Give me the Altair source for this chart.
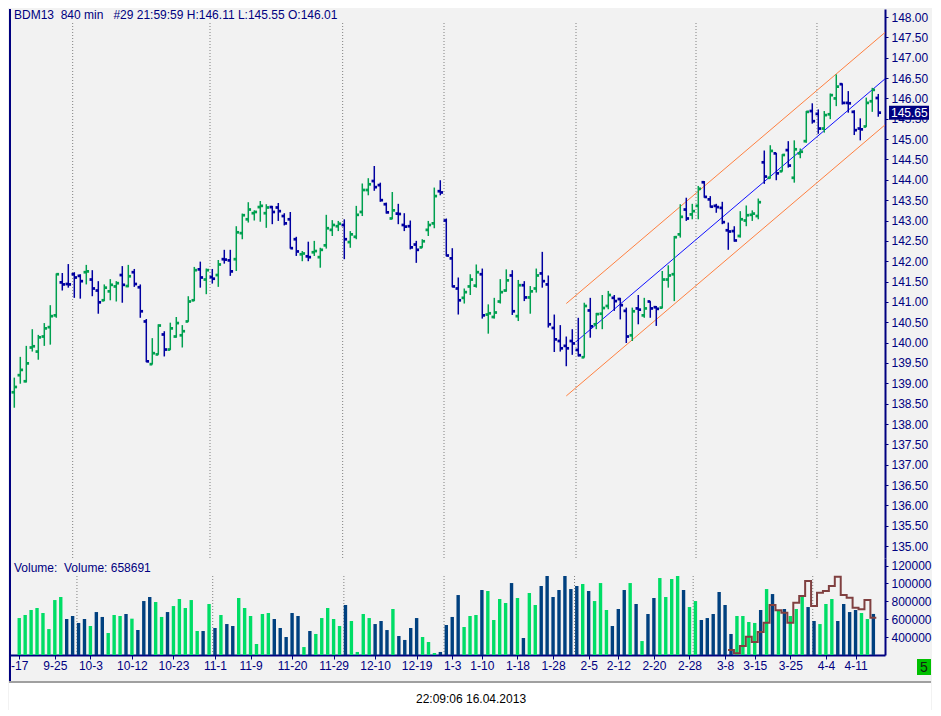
import altair as alt
import pandas as pd

# ---------------- data ----------------
OPEN = [138.78,139.20,139.05,139.88,139.78,140.15,140.38,140.67,141.48,141.44,
141.68,141.64,141.73,141.55,141.28,141.04,141.26,141.38,141.66,141.39,
141.73,141.36,140.52,139.47,139.71,140.20,139.83,140.15,140.18,140.52,
141.04,141.80,141.55,141.61,141.66,142.05,142.02,142.05,142.69,143.03,
143.18,143.33,143.18,143.33,143.32,143.11,143.03,142.54,142.17,142.12,
142.22,142.10,142.39,142.77,142.86,142.89,142.47,142.60,143.21,143.75,
143.97,143.87,143.40,143.05,143.17,142.89,142.86,142.41,142.34,142.77,
142.93,143.72,143.00,142.07,141.33,141.10,141.38,141.40,141.68,140.69,
140.63,141.01,141.28,141.65,140.65,141.41,141.11,141.33,141.70,141.43,
140.36,140.04,139.92,140.04,139.82,139.64,140.79,140.45,140.71,140.90,
141.10,141.07,140.78,140.18,140.84,140.67,141.01,140.87,140.86,141.55,
141.68,142.66,143.27,143.15,143.36,143.94,143.52,143.36,143.31,142.76,
142.74,142.62,143.00,143.14,143.11,144.43,144.05,144.65,144.21,144.73,
144.05,144.65,144.95,145.69,145.62,145.26,145.61,146.00,146.35,145.89,
145.67,145.26,145.31,145.93,146.01]

HIGH = [139.14,139.65,139.92,140.33,140.19,140.48,140.92,141.70,141.71,141.93,
141.73,141.68,141.91,141.78,141.51,141.43,141.56,141.51,141.88,141.91,
141.81,141.43,140.58,140.11,140.45,140.28,140.49,140.63,140.43,141.14,
141.86,141.99,141.82,141.81,142.03,142.28,142.28,142.86,143.17,143.45,
143.25,143.48,143.40,143.36,143.43,143.18,143.21,142.60,142.25,142.48,
142.50,142.33,143.14,143.01,142.99,143.03,142.74,143.36,143.91,144.04,
144.34,143.93,143.44,143.70,143.41,143.18,143.00,142.50,142.54,142.99,
143.81,143.99,143.05,142.32,141.60,141.33,141.68,141.92,141.82,140.94,
141.10,141.56,141.80,141.78,141.54,141.51,141.39,141.82,142.23,141.65,
140.69,140.43,140.15,140.33,140.61,140.98,141.10,140.73,141.17,141.27,
141.17,141.10,140.86,140.86,141.17,141.10,141.02,140.90,141.76,141.90,
142.62,143.40,143.56,143.41,143.85,143.97,143.60,143.41,143.46,142.95,
142.86,143.23,143.37,143.25,143.54,144.72,144.85,144.66,144.63,144.95,
144.97,144.77,145.69,145.88,145.73,145.69,146.12,146.59,146.37,146.18,
145.71,145.51,146.02,146.26,146.11]

LOW = [138.40,138.99,139.02,139.78,139.58,139.92,139.95,140.61,141.28,141.35,
141.10,141.08,141.43,141.14,140.71,141.02,141.04,141.01,140.98,141.36,
141.37,140.61,139.52,139.46,139.70,139.66,139.82,140.12,139.88,140.51,
141.02,141.35,141.19,141.45,141.37,141.94,141.64,141.76,142.54,142.95,
143.00,142.97,142.82,142.91,142.99,142.88,142.31,142.13,142.00,142.00,
142.13,141.84,142.31,142.62,142.74,142.05,142.33,142.54,143.11,143.62,
143.73,143.46,143.17,143.03,142.91,142.74,142.29,141.96,142.33,142.62,
142.81,143.62,142.12,141.36,140.69,140.96,141.17,141.35,140.59,140.22,
140.59,140.96,141.25,140.68,140.53,141.02,140.71,141.23,141.35,140.37,
139.77,139.78,139.42,139.70,139.66,139.63,140.12,140.33,140.33,140.82,
140.78,140.57,139.99,140.04,140.45,140.61,140.61,140.41,140.84,141.35,
141.02,142.58,142.99,143.03,143.03,143.56,143.32,143.19,142.91,142.28,
142.48,142.58,142.86,142.99,143.03,143.90,144.03,143.99,144.20,144.30,
143.93,144.53,144.91,145.38,145.13,145.16,145.49,145.81,145.85,145.65,
145.10,144.97,145.30,145.67,145.55]

CLOSE = [138.91,139.33,139.49,139.91,140.13,140.35,140.65,141.68,141.43,141.43,
141.60,141.51,141.75,141.33,140.99,141.35,141.42,141.46,141.42,141.63,
141.44,140.77,139.54,139.74,140.42,139.83,140.35,140.48,140.28,141.01,
141.78,141.60,141.78,141.57,141.92,142.04,141.75,142.71,143.13,143.27,
143.21,143.36,143.32,143.21,143.23,142.93,142.32,142.24,142.19,142.10,
142.25,142.28,142.81,142.89,142.92,142.54,142.66,143.14,143.75,143.89,
143.82,143.50,143.20,143.25,143.16,142.85,142.34,142.28,142.49,142.89,
143.60,143.69,142.14,141.38,141.04,141.24,141.55,141.73,140.67,140.72,
140.74,141.24,141.53,140.77,141.41,141.11,141.26,141.65,141.51,140.45,
140.08,139.86,139.86,139.98,139.69,140.90,140.40,140.70,140.85,141.17,
141.02,140.92,140.15,140.77,140.81,140.84,140.84,140.83,141.55,141.65,
142.59,143.09,143.05,143.23,143.78,143.58,143.34,143.33,142.96,142.73,
142.51,143.03,143.13,143.17,143.45,144.08,144.71,144.16,144.61,144.35,
144.75,144.69,145.67,145.44,145.26,145.59,146.08,146.29,145.89,145.88,
145.22,145.24,145.89,146.21,145.65]

VOLUME = [613000,647000,703000,725000,669000,490000,814000,848000,602000,636000,
558000,602000,524000,680000,625000,446000,647000,636000,658000,606000,
479000,803000,848000,792000,625000,680000,747000,826000,725000,814000,
468000,468000,770000,502000,647000,546000,524000,837000,725000,636000,
323000,658000,669000,602000,502000,401000,669000,636000,289000,468000,
435000,613000,725000,602000,524000,759000,580000,234000,658000,613000,
546000,580000,479000,714000,412000,368000,502000,613000,401000,345000,
222000,234000,535000,625000,870000,513000,636000,647000,926000,915000,
591000,826000,781000,1004000,837000,390000,893000,759000,971000,1083000,
848000,926000,1083000,937000,971000,993000,915000,803000,1004000,703000,
524000,714000,926000,1004000,770000,356000,658000,837000,1060000,848000,
1049000,1083000,926000,736000,803000,591000,613000,658000,904000,759000,
435000,636000,636000,569000,558000,703000,937000,881000,692000,714000,
636000,714000,848000,736000,580000,546000,770000,826000,580000,770000,
680000,703000,669000,602000,658691]

# brown step indicator in the volume pane (bars 120..144)
OI_IDX = list(range(120, 145))
OI_VAL = [256000,219000,301000,405000,345000,457000,561000,759000,699000,673000,
561000,785000,859000,1027000,747000,896000,915000,971000,1075000,870000,
841000,729000,710000,814000,617000]

TICK_IDX = [0,6,12,19,26,33,39,46,53,60,67,73,78,84,90,96,101,107,113,119,124,130,136,141]
TICK_LABELS = ["-17","9-25","10-3","10-12","10-23","11-1","11-9","11-20","11-29",
               "12-10","12-19","1-3","1-10","1-18","1-28","2-5","2-12","2-20",
               "2-28","3-8","3-15","3-25","4-4","4-11"]
GRID_IDX = [9.73, 32.62, 54.73, 71.62, 93.62, 113.62, 133.78]

PRICE_TICKS = [135.0,135.5,136.0,136.5,137.0,137.5,138.0,138.5,139.0,139.5,140.0,
               140.5,141.0,141.5,142.0,142.5,143.0,143.5,144.0,144.5,145.0,145.5,
               146.0,146.5,147.0,147.5,148.0]
VOL_TICKS = [400000, 600000, 800000, 1000000, 1200000]
# the volume labels are shown cut to six characters by the window edge
VOL_LABELS = ["400000", "600000", "800000", "100000", "120000"]

CH_MID_I = [93.6, 145.12]
CH_MID_P = [140.02, 146.48]
CH_UP_I = [92.0, 145.12]
CH_UP_P = [140.96, 147.62]
CH_LO_I = [92.0, 145.12]
CH_LO_P = [138.69, 145.35]

LAST_PRICE = 145.65
TITLE = "BDM13\u00a0\u00a0840 min\u00a0\u00a0\u00a0#29 21:59:59 H:146.11 L:145.55 O:146.01"
VOL_TITLE = "Volume:\u00a0\u00a0Volume: 658691"
STAMP = "22:09:06 16.04.2013"

# ---------------- styles ----------------
FONT = "Liberation Sans"
NAVY = "#000080"
GREEN_P = "#00a050"
BLUE_P = "#0000a0"
GREEN_V = "#00dd66"
BLUE_V = "#00407f"
W, H1, H2 = 876, 549, 97

df = pd.DataFrame({"i": list(range(len(OPEN))), "o": OPEN, "h": HIGH,
                   "l": LOW, "c": CLOSE, "v": VOLUME})
df["dir"] = ["up" if c > o else "down" for o, c in zip(OPEN, CLOSE)]

XS = alt.Scale(domain=[-0.883, 145.12], nice=False, zero=False)
YS = alt.Scale(domain=[134.708, 148.197], nice=False, zero=False)
VS = alt.Scale(domain=[200000, 1283800], nice=False, zero=False)

grid_df = pd.DataFrame({"g": GRID_IDX})
one = pd.DataFrame({"k": [0]})

# ---------------- price pane ----------------
price_axis = alt.Axis(orient="right", values=PRICE_TICKS, format=".2f", title=None,
                      grid=False, labelColor=NAVY, labelFont=FONT, labelFontSize=12,
                      tickColor=NAVY, tickSize=3, tickWidth=1, domainColor=NAVY,
                      domainWidth=2, labelPadding=3, labelOverlap=False)
col_p = alt.Color("dir:N", scale=alt.Scale(domain=["up", "down"], range=[GREEN_P, BLUE_P]),
                  legend=None)


def PX(field):
    return alt.X(field, scale=XS, axis=None)


def PY(field):
    return alt.Y(field, scale=YS, axis=price_axis)


grid_p = alt.Chart(grid_df).mark_rule(color="#808080", strokeDash=[1, 2], strokeWidth=1).encode(
    x=PX("g:Q"), y=alt.value(14), y2=alt.value(H1))
left_p = alt.Chart(one).mark_rule(color=NAVY, strokeWidth=2).encode(
    x=alt.value(1), y=alt.value(0), y2=alt.value(H1))


def chan(ix, px, color):
    d = pd.DataFrame({"i": ix, "p": px})
    return alt.Chart(d).mark_line(color=color, strokeWidth=1).encode(
        x=PX("i:Q"), y=PY("p:Q"))


hl = alt.Chart(df).mark_rule(strokeWidth=1.5).encode(
    x=PX("i:Q"), y=PY("l:Q"), y2="h:Q", color=col_p)
op = alt.Chart(df).mark_square(size=7.5, xOffset=-1.4, opacity=1).encode(
    x=PX("i:Q"), y=PY("o:Q"), color=col_p)
cl = alt.Chart(df).mark_square(size=7.5, xOffset=1.4, opacity=1).encode(
    x=PX("i:Q"), y=PY("c:Q"), color=col_p)

title = alt.Chart(pd.DataFrame({"t": [TITLE]})).mark_text(
    align="left", baseline="middle", font=FONT, fontSize=12, color=NAVY).encode(
    x=alt.value(5), y=alt.value(6), text="t:N")

tag_df = pd.DataFrame({"p": [LAST_PRICE], "lbl": [f"{LAST_PRICE:.2f}"]})
tag_rect = alt.Chart(tag_df).mark_rect(color=NAVY, yOffset=-7, y2Offset=7).encode(
    x=alt.value(880), x2=alt.value(920), y=PY("p:Q"), y2="p:Q")
tag_text = alt.Chart(tag_df).mark_text(align="left", baseline="middle", font=FONT,
                                       fontSize=12, color="white").encode(
    x=alt.value(882), y=PY("p:Q"), text="lbl:N")

price = alt.layer(grid_p, left_p,
                  chan(CH_UP_I, CH_UP_P, "#ff8040"),
                  chan(CH_LO_I, CH_LO_P, "#ff8040"),
                  chan(CH_MID_I, CH_MID_P, "#1010ff"),
                  hl, op, cl, title, tag_rect, tag_text).properties(width=W, height=H1)

# ---------------- volume pane ----------------
lbl_expr = ("[" + ",".join("'" + s + "'" for s in TICK_LABELS) + "][indexof(["
            + ",".join(str(t) for t in TICK_IDX) + "], datum.value)]")
vlbl_expr = ("[" + ",".join("'" + s + "'" for s in VOL_LABELS) + "][indexof(["
             + ",".join(str(t) for t in VOL_TICKS) + "], datum.value)]")
x_axis = alt.Axis(values=TICK_IDX, labelExpr=lbl_expr, title=None, grid=False,
                  labelColor=NAVY, labelFont=FONT, labelFontSize=12, tickColor=NAVY,
                  tickSize=4, domainColor=NAVY, domainWidth=2, labelPadding=1,
                  labelOverlap=False, labelFlush=8, labelFlushOffset=5)
vol_axis = alt.Axis(orient="right", values=VOL_TICKS, title=None, grid=False,
                    labelExpr=vlbl_expr,
                    labelColor=NAVY, labelFont=FONT, labelFontSize=12, tickColor=NAVY,
                    tickSize=3, domainColor=NAVY, domainWidth=2, labelPadding=3,
                    labelOverlap=False)
col_v = alt.Color("dir:N", scale=alt.Scale(domain=["up", "down"], range=[GREEN_V, BLUE_V]),
                  legend=None)


def VX(field):
    return alt.X(field, scale=XS, axis=x_axis)


def VY(field):
    return alt.Y(field, scale=VS, axis=vol_axis)


grid_v = alt.Chart(grid_df).mark_rule(color="#808080", strokeDash=[1, 2], strokeWidth=1).encode(
    x=VX("g:Q"), y=alt.value(18), y2=alt.value(H2))
left_v = alt.Chart(one).mark_rule(color=NAVY, strokeWidth=2).encode(
    x=alt.value(1), y=alt.value(0), y2=alt.value(123))
bars = alt.Chart(df).mark_bar(size=3.4).encode(
    x=VX("i:Q"), y=VY("v:Q"), y2=alt.datum(200000), color=col_v)

oi_df = pd.DataFrame({"x": [i - 0.5 for i in OI_IDX] + [OI_IDX[-1] + 0.5],
                      "v": OI_VAL + [OI_VAL[-1]]})
oi = alt.Chart(oi_df).mark_line(interpolate="step-after", color="#804040", strokeWidth=2).encode(
    x=VX("x:Q"), y=VY("v:Q"))

vtitle = alt.Chart(pd.DataFrame({"t": [VOL_TITLE]})).mark_text(
    align="left", baseline="middle", font=FONT, fontSize=12, color=NAVY).encode(
    x=alt.value(5), y=alt.value(10), text="t:N")

sep = alt.Chart(one).mark_rule(color="#a0a0a0", strokeWidth=2).encode(
    x=alt.value(0), x2=alt.value(922), y=alt.value(124))
white = alt.Chart(one).mark_rect(color="white").encode(
    x=alt.value(0), x2=alt.value(922), y=alt.value(125), y2=alt.value(152))
stamp = alt.Chart(pd.DataFrame({"t": [STAMP]})).mark_text(
    align="center", baseline="middle", font=FONT, fontSize=12, color="black").encode(
    x=alt.value(462), y=alt.value(141), text="t:N")
box5 = alt.Chart(one).mark_rect(color="#00c000").encode(
    x=alt.value(908), x2=alt.value(922), y=alt.value(101), y2=alt.value(117))
txt5 = alt.Chart(pd.DataFrame({"t": ["5"]})).mark_text(
    align="center", baseline="middle", font=FONT, fontSize=14, color="#102010").encode(
    x=alt.value(915), y=alt.value(109.5), text="t:N")

volume = alt.layer(grid_v, left_v, bars, oi, vtitle, sep, white, stamp, box5, txt5
                   ).properties(width=W, height=H2)

chart = alt.vconcat(price, volume, spacing=0, bounds="flush").resolve_scale(
    color="independent", y="independent"
).properties(background="#f2f2f2", padding=0).configure_view(strokeWidth=0)

chart.save("out.html", embed_options={"renderer": "svg", "actions": False})
